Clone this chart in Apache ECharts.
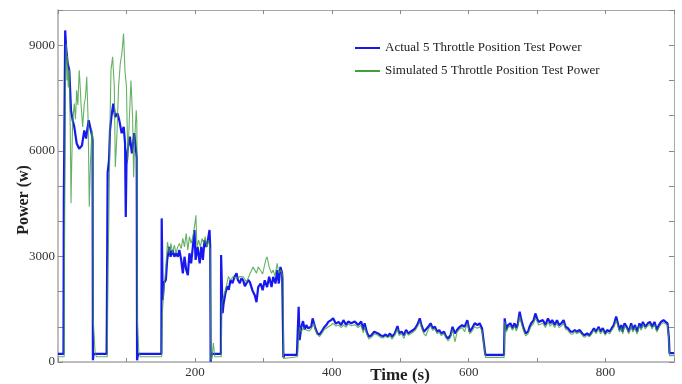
<!DOCTYPE html>
<html>
<head>
<meta charset="utf-8">
<script src="https://cdn.jsdelivr.net/npm/echarts@6/dist/echarts.min.js"></script>
<style>
html, body { margin: 0; padding: 0; background: #fff; }
#chart { width: 682px; height: 384px; }
</style>
</head>
<body>
<div id="chart"></div>
<script>
// time (s) and power (w)
var actualTime = [0,8,8.5,10.5,12,14,16.5,19,21.4,23.8,27.3,31,35,38.4,41,44.8,47,49.6,50.5,51,52,71,71.3,72.5,74.5,76,78,80.8,83.5,87,89.5,93,96,98,99,100,101.7,105,108,111.4,114,115,115.5,117,151,151.5,153,154.7,157.6,159.5,162.5,164.5,167.4,170,172.4,175,177.3,180,182.4,184.8,187.3,189.7,192,194.5,197,199.4,201,204,207,209.3,211.7,214,216.5,219,221.4,222.4,223,224.5,238,238.3,240.5,242,244.6,247,249.5,252,255,258,260.9,262.8,265.7,268,270.6,273,275.5,278,280.3,284,287.6,290,292.5,296,299,302,305.5,308.5,312,314.4,317.8,320.2,322.6,325,327.5,328.8,329.3,331,349,351.6,353,355.5,358,360.4,362.8,365.3,368,370,372,374,376,379,382,385,388.7,392,395,399,402,406,410,413.7,417,421,424,428.5,433.6,438.5,443,446,448,451,454,458,462,464.5,467.6,471,475,478,482,485,488,492,496,498.5,502,505.5,508.5,512,515,519,522,526,528.5,531,534.6,537.5,541,544.4,547.3,550.7,554,557,560,564,567,570,573.5,576.4,580,583,587,590.5,594,598,601.5,605,608.8,612.7,616,619.5,622.4,624.4,651.6,652.6,655,657.5,661,664,667,669.6,672,674.5,677,680.3,683.3,686.7,689,691.5,695,697.4,700,702.2,705,708.6,712,715.9,719.3,722,725.6,729,732,735.3,738.7,741.6,745,749,752,755,758,762,766,769,773,776.6,780,783,786,790,792.6,796,799.5,802.4,806,809,812,815.5,818,820.4,823,825,827.7,831,834,837.4,840,843,846,849.6,852,854.5,858,861.8,865,868,871.5,875,878,881,884.6,887.5,890.5,892.5,893.4,900];
var actualPower = [230,230,4600,9420,8900,8500,8290,7150,6870,6680,6210,6060,6150,6580,6350,6870,6900,6440,6300,50,230,230,1000,5370,5730,6580,6960,7340,6960,7060,6870,6500,6680,6200,4120,5600,6020,6400,5930,6500,6020,5800,50,230,230,4080,1760,2240,2330,2900,3270,2990,3180,2990,3090,2990,3180,2900,2520,2990,2620,2470,3090,2800,3270,3750,2900,3270,2800,3270,2900,3460,3270,3460,3750,3270,10,230,230,3040,1390,1670,1950,2150,2050,2330,2240,2430,2520,2330,2240,2380,2320,2150,2180,2330,2270,2040,1890,1700,2130,2230,2040,2320,2130,2420,2130,2420,2230,2610,2230,2700,2520,2500,130,200,200,1570,620,1000,1160,920,1050,960,1000,1000,1240,1290,960,810,780,860,980,1050,1140,1190,1240,1090,1140,1050,1190,1050,1150,1100,1150,1050,1150,910,1100,860,720,760,860,910,810,760,730,780,730,810,720,810,1020,810,860,760,910,810,860,910,960,1100,1240,1050,860,810,1000,1100,960,1000,860,910,810,860,720,670,760,1000,810,910,1000,1050,1000,1190,860,960,1100,1050,1100,960,910,200,200,1240,910,1050,1100,960,1100,960,1100,1430,1190,960,810,860,1000,1100,1190,1380,1240,1140,1100,1190,1050,1240,1100,1190,1050,1190,1050,1100,1190,1000,960,860,860,910,860,910,810,760,810,760,860,960,860,1000,860,960,810,910,860,960,1050,1290,1100,910,1050,860,1100,1000,860,1100,910,1050,860,1100,960,1140,1000,1100,1140,1000,1140,910,1050,1140,1190,1140,1100,700,250,250];

var simTime = [0,9,9.5,11,12,13,14,15,16.5,18,19,20,21.4,23.8,25.5,27.3,29,31,32.5,33.6,36,38.4,40,42,44,45.7,47.5,49.6,50.8,51.5,53,54,55,56,72,73,75,76,77.4,79.8,82.3,83.7,86,88.5,91,93.3,95.8,97.8,100,102,104,106.6,109,110.5,112.5,114.3,115.2,116,118,120,151.5,152.5,154.7,157.6,160,162.5,165,167.4,170,172.4,175,177.3,180,182.4,184.8,187.3,189.7,192,194.5,197,199.4,201.5,203,205.5,208,210.5,213,215,217.5,220,222.4,223.2,225,227,229,238.5,239.5,242,246,249,252,256,260.5,263,266,270.6,275.5,280.3,285,287.6,290,292.5,296,299,303.5,305.5,308.5,312,314.4,317,320.2,322.6,325,327.5,329,329.5,331,350,351.6,353,355.5,358,362.8,367,370,374,376,379,382,385,389,392,395,399,402,406,410,414,417,421,424,428.5,433.6,438.5,443,446,448,451,454,458,462,464.5,467.6,471,475,478,482,485,488,492,496,498.5,502,505.5,508.5,512,515,519,522,526,528.5,531,534.6,537.5,541,544.4,547.3,550.7,554,557,560,564,567,570,573.5,576.4,580,583,587,590.5,594,598,601.5,605,608.8,612.7,616,619.5,622.4,624.6,651.8,652.8,655,657.5,661,664,667,669.6,672,674.5,677,680.3,683.3,686.7,689,691.5,695,697.4,700,702.2,705,708.6,712,715.9,719.3,722,725.6,729,732,735.3,738.7,741.6,745,749,752,755,758,762,766,769,773,776.6,780,783,786,790,792.6,796,799.5,802.4,806,809,812,815.5,818,820.4,823,825,827.7,831,834,837.4,840,843,846,849.6,852,854.5,858,861.8,865,868,871.5,875,878,881,884.6,887.5,890.5,892.5,893.4,900];
var simPower = [150,150,3000,8200,9040,8000,8700,7800,8300,6500,4510,5600,6800,7340,6900,7720,7300,8290,7800,7340,6680,7340,7500,8100,6870,4410,5730,6580,6400,1190,700,300,350,150,150,2500,5000,6800,8290,8670,7820,5540,6400,7820,8480,8760,9330,8290,7820,5730,6790,8000,6960,5250,6500,7150,6800,1190,300,150,150,1390,2050,2700,3410,3090,3370,3090,3320,3090,3270,3370,3220,3510,3270,3650,3180,3560,3370,3560,3840,4170,3270,3460,3270,3510,3370,3560,3270,3460,3180,40,150,540,150,150,1670,1860,2150,2430,2330,2430,2380,2330,2430,2420,2270,2500,2700,2610,2520,2700,2600,2500,2900,2990,2700,2520,2610,2430,2800,2520,2610,2520,2400,100,150,150,720,1000,850,960,910,880,950,1100,900,780,720,800,920,960,1000,1050,1100,1020,1050,980,1050,990,1080,1030,1060,980,1050,830,1000,800,650,700,800,850,760,700,680,730,690,750,650,760,940,750,800,670,850,760,800,850,900,1030,1150,980,800,740,930,1030,900,940,800,850,750,800,680,600,700,920,570,850,940,980,860,1100,800,880,1000,960,1000,880,850,130,130,1150,850,980,1020,900,1020,880,1000,1300,1100,880,740,800,920,1020,1100,1250,1150,1050,1020,1100,980,1130,1020,1100,980,1100,980,1020,1100,930,900,800,790,860,800,850,760,700,760,720,800,900,800,950,800,900,760,850,800,900,980,1180,1030,850,980,800,1030,940,800,1030,850,980,790,1030,900,1070,940,1030,1070,940,1060,850,980,1070,1120,1080,1040,600,180,180];

var yLabels = [0, 3000, 6000, 9000];
var xLabels = [200, 400, 600, 800];

function pairs(t, p) {
	var out = [];
	for (var i = 0; i < t.length; i++) {
		out.push([t[i], p[i]]);
	}
	return out;
}

var serif = 'Liberation Serif';
var boxColor = '#a8a8a8';

var myChart = echarts.init(document.getElementById('chart'));

var option = {
	animation: false,
	backgroundColor: '#fff',
	grid: { left: 58, right: 8, top: 10, bottom: 22 },
	legend: {
		orient: 'vertical',
		left: 350,
		top: 35,
		itemWidth: 25,
		itemHeight: 2,
		itemGap: 7,
		icon: 'rect',
		textStyle: { fontFamily: serif, fontSize: 13, color: '#222', lineHeight: 16 },
		data: ['Actual 5 Throttle Position Test Power', 'Simulated 5 Throttle Position Test Power']
	},
	xAxis: [{
		type: 'value',
		min: 0,
		max: 900,
		interval: 100,
		axisLine: { onZero: false, lineStyle: { color: boxColor, width: 1.5 } },
		axisTick: { inside: true, length: 4, lineStyle: { color: '#888' } },
		splitLine: { show: false },
		axisLabel: {
			margin: 4,
			fontFamily: serif,
			fontSize: 13,
			color: '#333',
			formatter: function (v) { return xLabels.indexOf(v) >= 0 ? String(v) : ''; }
		}
	}, {
		type: 'value',
		position: 'top',
		min: 0,
		max: 900,
		interval: 100,
		axisLine: { show: true, onZero: false, lineStyle: { color: boxColor } },
		axisTick: { inside: true, length: 4, lineStyle: { color: '#888' } },
		axisLabel: { show: false },
		splitLine: { show: false }
	}],
	yAxis: [{
		type: 'value',
		min: 0,
		max: 10000,
		interval: 1000,
		axisLine: { show: true, onZero: false, lineStyle: { color: boxColor, width: 1.5 } },
		axisTick: { show: true, inside: true, length: 5, lineStyle: { color: '#888' } },
		splitLine: { show: false },
		axisLabel: {
			margin: 3,
			fontFamily: serif,
			fontSize: 13,
			color: '#333',
			formatter: function (v) { return yLabels.indexOf(v) >= 0 ? String(v) : ''; }
		}
	}, {
		type: 'value',
		position: 'right',
		min: 0,
		max: 10000,
		interval: 1000,
		axisLine: { show: true, onZero: false, lineStyle: { color: boxColor } },
		axisTick: { show: true, inside: true, length: 5, lineStyle: { color: '#888' } },
		axisLabel: { show: false },
		splitLine: { show: false }
	}],
	graphic: [{
		type: 'text',
		x: 400,
		y: 376,
		style: {
			text: 'Time (s)',
			font: 'bold 17px "Liberation Serif"',
			fill: '#222',
			textAlign: 'center',
			textVerticalAlign: 'middle'
		}
	}, {
		type: 'text',
		x: 24,
		y: 200,
		rotation: Math.PI / 2,
		style: {
			text: 'Power (w)',
			font: 'bold 16px "Liberation Serif"',
			fill: '#222',
			textAlign: 'center',
			textVerticalAlign: 'middle'
		}
	}],
	series: [{
		name: 'Actual 5 Throttle Position Test Power',
		type: 'line',
		showSymbol: false,
		symbol: 'none',
		color: '#1717f0',
		lineStyle: { color: '#1717f0', width: 2.2 },
		data: pairs(actualTime, actualPower)
	}, {
		name: 'Simulated 5 Throttle Position Test Power',
		type: 'line',
		showSymbol: false,
		symbol: 'none',
		color: '#3f9f3f',
		lineStyle: { color: '#3f9f3f', width: 1.1, opacity: 0.8 },
		data: pairs(simTime, simPower)
	}]
};

myChart.setOption(option);
</script>
</body>
</html>
